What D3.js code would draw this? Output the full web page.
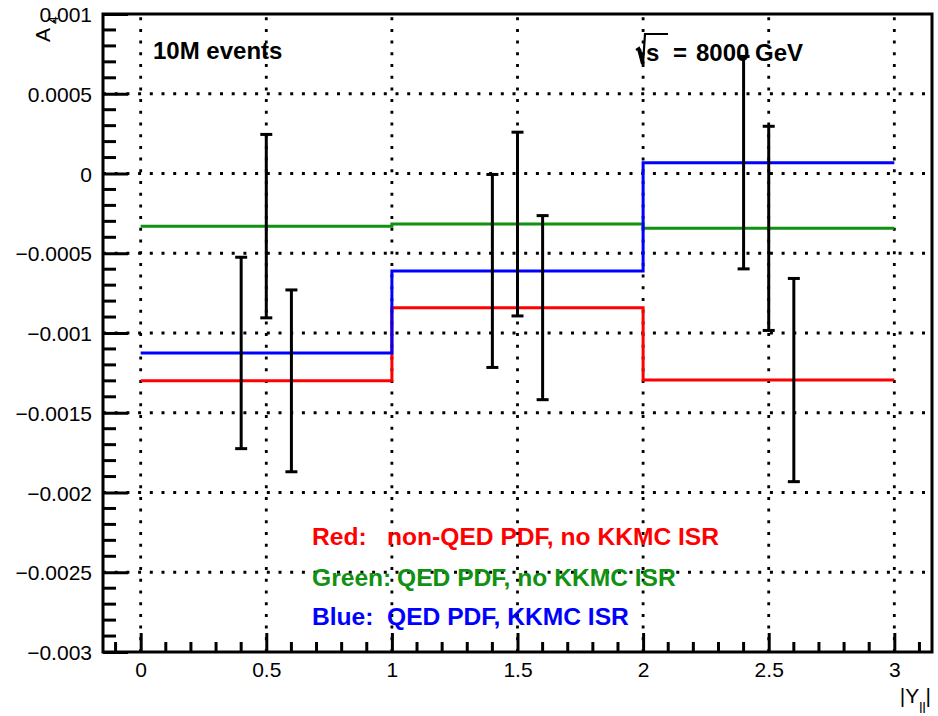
<!DOCTYPE html>
<html>
<head>
<meta charset="utf-8">
<script src="https://cdn.jsdelivr.net/npm/d3@7"></script>
<style>
  html, body { margin: 0; padding: 0; background: #fff; }
  svg { display: block; font-family: 'Liberation Sans', Arial, Helvetica, sans-serif; }
</style>
</head>
<body>
<script>
/* global d3 */
// bin edges of |Y_ll| and the three histograms
const binEdges = [0, 1, 2, 3];
const redValues = [-0.00130, -0.000841, -0.001295];
const greenValues = [-0.00033, -0.000317, -0.000344];
const blueValues = [-0.001125, -0.000611, 0.000068];

// error bar half-widths (blue at centre-0.1, green at centre, red at centre+0.1)
const blueErrors = [0.000600, 0.000605, 0.000666];
const greenErrors = [0.000575, 0.000576, 0.000640];
const redErrors = [0.000570, 0.000577, 0.000637];

const xTicks = [0, 0.5, 1, 1.5, 2, 2.5, 3];
const xTickLabels = ['0', '0.5', '1', '1.5', '2', '2.5', '3'];
const yTicks = [0.001, 0.0005, 0, -0.0005, -0.001, -0.0015, -0.002, -0.0025, -0.003];
const yTickLabels = ['0.001', '0.0005', '0', '\u22120.0005', '\u22120.001', '\u22120.0015', '\u22120.002', '\u22120.0025', '\u22120.003'];

(function() {
  'use strict';

  const w = 938;
  const h = 716;
  const left = 103, right = 932, top = 14, bottom = 652;

  const xScale = d3.scaleLinear().domain([-0.15, 3.15]).range([left, right]);
  const yScale = d3.scaleLinear().domain([-0.003, 0.001]).range([bottom, top]);

  const svg = d3.select('body').append('svg')
    .attr('width', w)
    .attr('height', h);

  // dotted grid
  const grid = svg.append('g')
    .attr('stroke', '#000')
    .attr('stroke-width', 2.8)
    .attr('stroke-dasharray', '3 8.7');
  grid.selectAll('line.h')
    .data(yTicks.slice(1, -1))
    .enter().append('line')
    .attr('x1', left).attr('x2', right)
    .attr('y1', d => yScale(d)).attr('y2', d => yScale(d));
  grid.selectAll('line.v')
    .data(xTicks)
    .enter().append('line')
    .attr('x1', d => xScale(d)).attr('x2', d => xScale(d))
    .attr('y1', bottom).attr('y2', top);

  // x axis, ticks inside the frame
  const xMinor = d3.range(-1, 32).map(i => i / 10);
  const xAxis = d3.axisBottom(xScale)
    .tickValues(xTicks)
    .tickSizeInner(-19)
    .tickSizeOuter(0)
    .tickFormat((d, i) => xTickLabels[i]);
  const gx = svg.append('g')
    .attr('id', 'x-axis')
    .attr('transform', 'translate(0,' + bottom + ')')
    .call(xAxis);
  gx.selectAll('g.minor')
    .data(xMinor.filter(d => Math.abs(d * 2 - Math.round(d * 2)) > 1e-6))
    .enter().append('line')
    .attr('x1', d => xScale(d)).attr('x2', d => xScale(d))
    .attr('y1', 0).attr('y2', -10)
    .attr('stroke', '#000').attr('stroke-width', 3);

  const yMinor = d3.range(-30, 11).map(i => i / 10000);
  const yAxis = d3.axisLeft(yScale)
    .tickValues(yTicks)
    .tickSizeInner(-25)
    .tickSizeOuter(0)
    .tickFormat((d, i) => yTickLabels[i]);
  const gy = svg.append('g')
    .attr('id', 'y-axis')
    .attr('transform', 'translate(' + left + ',0)')
    .call(yAxis);
  gy.selectAll('g.minor')
    .data(yMinor.filter(d => Math.abs(d * 2000 - Math.round(d * 2000)) > 1e-6))
    .enter().append('line')
    .attr('x1', 0).attr('x2', 13)
    .attr('y1', d => yScale(d)).attr('y2', d => yScale(d))
    .attr('stroke', '#000').attr('stroke-width', 3);

  svg.selectAll('.domain').remove();
  svg.selectAll('.tick line').attr('stroke-width', 3);
  gx.selectAll('.tick text')
    .attr('font-size', 21).attr('font-family', 'Liberation Sans, Arial, sans-serif')
    .attr('y', 25).attr('dy', 0);
  gy.selectAll('.tick text')
    .attr('font-size', 21).attr('font-family', 'Liberation Sans, Arial, sans-serif')
    .attr('x', -11).attr('dy', '0.36em');

  // frame
  svg.append('rect')
    .attr('x', left).attr('y', top)
    .attr('width', right - left).attr('height', bottom - top)
    .attr('fill', 'none').attr('stroke', '#000').attr('stroke-width', 3);

  // step histograms
  const step = d3.line()
    .x(d => xScale(d[0]))
    .y(d => yScale(d[1]))
    .curve(d3.curveStepAfter);
  const histos = [
    {values: redValues, color: '#ff0000'},
    {values: greenValues, color: '#119111'},
    {values: blueValues, color: '#0000ff'}
  ];
  histos.forEach(function(s) {
    const pts = binEdges.map((e, i) => [e, s.values[Math.min(i, s.values.length - 1)]]);
    svg.append('path')
      .attr('d', step(pts))
      .attr('fill', 'none')
      .attr('stroke', s.color)
      .attr('stroke-width', 3);
  });

  // error bars
  const bars = [];
  [[blueValues, blueErrors, -0.1], [greenValues, greenErrors, 0], [redValues, redErrors, 0.1]]
    .forEach(function(s) {
      s[0].forEach((v, i) => bars.push({x: binEdges[i] + 0.5 + s[2], y: v, e: s[1][i]}));
    });
  const eb = svg.append('g').attr('stroke', '#000').attr('stroke-width', 3);
  eb.selectAll('line.bar')
    .data(bars).enter().append('line')
    .attr('x1', d => xScale(d.x)).attr('x2', d => xScale(d.x))
    .attr('y1', d => yScale(d.y - d.e)).attr('y2', d => yScale(d.y + d.e));
  eb.selectAll('line.capTop')
    .data(bars).enter().append('line')
    .attr('x1', d => xScale(d.x) - 6).attr('x2', d => xScale(d.x) + 6)
    .attr('y1', d => yScale(d.y + d.e)).attr('y2', d => yScale(d.y + d.e));
  eb.selectAll('line.capBot')
    .data(bars).enter().append('line')
    .attr('x1', d => xScale(d.x) - 6).attr('x2', d => xScale(d.x) + 6)
    .attr('y1', d => yScale(d.y - d.e)).attr('y2', d => yScale(d.y - d.e));

  // axis titles
  const yt = svg.append('text')
    .attr('transform', 'translate(50,42) rotate(-90)')
    .attr('font-size', 21);
  yt.append('tspan').text('A');
  yt.append('tspan').attr('dy', 8).attr('dx', 4).attr('font-size', 14).text('4');

  const xt = svg.append('text')
    .attr('x', 931).attr('y', 703)
    .attr('text-anchor', 'end')
    .attr('font-size', 21);
  xt.append('tspan').text('|Y');
  xt.append('tspan').attr('dy', 10).attr('font-size', 14).text('ll');
  xt.append('tspan').attr('dy', -10).text('|');

  // labels
  svg.append('text')
    .attr('x', 153).attr('y', 58.5)
    .attr('font-size', 24).attr('font-weight', 'bold')
    .text('10M events');

  const rs = svg.append('g');
  rs.append('path')
    .attr('d', 'M636,50 L639,48 L643,64 L645,34 L668,34')
    .attr('fill', 'none').attr('stroke', '#000').attr('stroke-width', 2.2);
  rs.append('path')
    .attr('d', 'M639,49 L643,64')
    .attr('fill', 'none').attr('stroke', '#000').attr('stroke-width', 4);
  const st = rs.append('text')
    .attr('y', 61)
    .attr('font-size', 24).attr('font-weight', 'bold');
  st.append('tspan').attr('x', 646).text('s');
  st.append('tspan').attr('x', 673).text('=');
  st.append('tspan').attr('x', 696).text('8000');
  st.append('tspan').attr('x', 755).text('GeV');

  const legend = [
    {head: 'Red:', body: 'non-QED PDF, no KKMC ISR', color: '#ff0000', y: 545, bx: 387},
    {head: 'Green:', body: 'QED PDF, no KKMC ISR', color: '#119111', y: 586, bx: 397},
    {head: 'Blue:', body: 'QED PDF, KKMC ISR', color: '#0000ff', y: 625, bx: 387}
  ];
  const lg = svg.selectAll('text.legend')
    .data(legend).enter().append('text')
    .attr('y', d => d.y)
    .attr('fill', d => d.color)
    .attr('font-size', 24.6).attr('font-weight', 'bold');
  lg.append('tspan').attr('x', 312).text(d => d.head);
  lg.append('tspan').attr('x', d => d.bx).text(d => d.body);
}());
</script>
</body>
</html>
